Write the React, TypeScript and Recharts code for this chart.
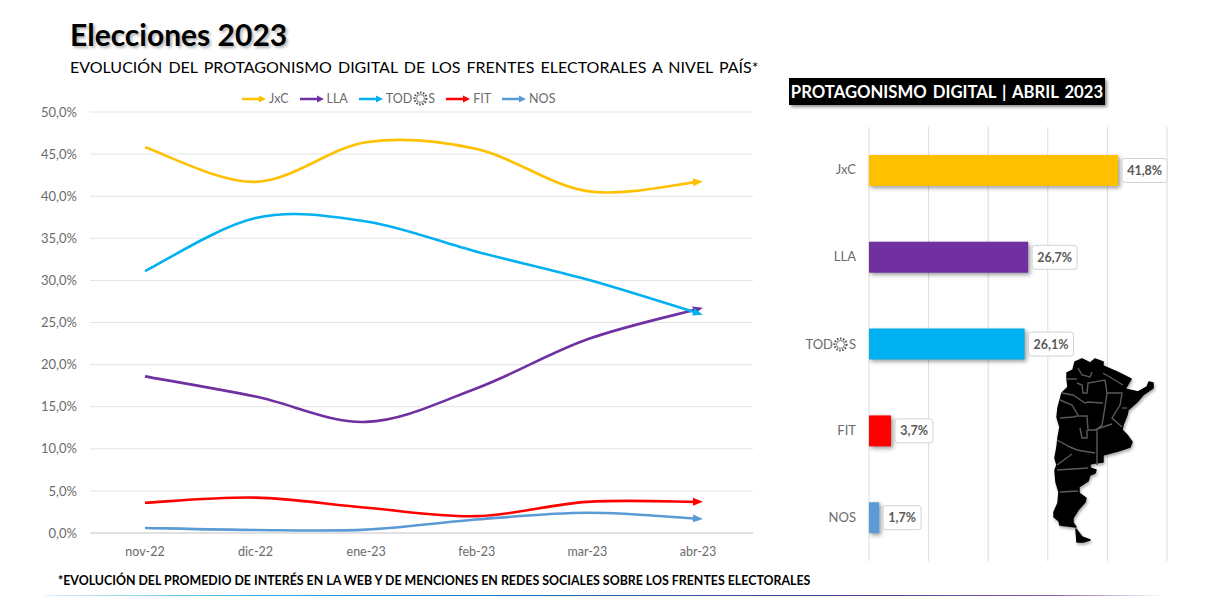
import { BarChart, Bar, Cell, CartesianGrid, LabelList, Legend, Line, LineChart, XAxis, YAxis } from "recharts"

const months = ["nov-22", "dic-22", "ene-23", "feb-23", "mar-23", "abr-23"]
const jxc = [45.8, 41.7, 46.4, 45.6, 40.6, 41.7]
const lla = [18.6, 16.2, 13.2, 17.2, 23.0, 26.6]
const todos = [31.1, 37.4, 37.0, 33.4, 30.1, 26.1]
const fit = [3.6, 4.2, 3.0, 2.0, 3.7, 3.7]
const nos = [0.6, 0.35, 0.4, 1.6, 2.4, 1.7]
const yTicks = [0, 5, 10, 15, 20, 25, 30, 35, 40, 45, 50]

const fronts = ["JxC", "LLA", "TODOS", "FIT", "NOS"]
const colors = ["#ffc000", "#7030a0", "#00b0f0", "#ff0000", "#5b9bd5"]
const april = [41.8, 26.7, 26.1, 3.7, 1.7]
const barTicks = [0, 10, 20, 30, 40, 50]

const lineData = months.map((m, i) => ({ month: m, JxC: jxc[i], LLA: lla[i], TODOS: todos[i], FIT: fit[i], NOS: nos[i] }))
const barData = fronts.map((f, i) => ({ name: f, value: april[i] }))

const FONT = "Lato, sans-serif"
const GRAY = "#6b6b6b"

const comma = (v: number) => v.toFixed(1).replace(".", ",")

// same smoothing excel uses for "smoothed line"
const excelCurve = (ctx: any) => {
  let pts: number[][] = []
  return {
    areaStart() {},
    areaEnd() {},
    lineStart() { pts = [] },
    point(x: number, y: number) { pts.push([+x, +y]) },
    lineEnd() {
      pts.forEach((p, i) => {
        if (i === 0) { ctx.moveTo(p[0], p[1]); return }
        const p0 = pts[Math.max(i - 2, 0)]
        const p1 = pts[i - 1]
        const p3 = pts[Math.min(i + 1, pts.length - 1)]
        ctx.bezierCurveTo(
          p1[0] + (p[0] - p0[0]) / 6, p1[1] + (p[1] - p0[1]) / 6,
          p[0] - (p3[0] - p1[0]) / 6, p[1] - (p3[1] - p1[1]) / 6,
          p[0], p[1]
        )
      })
    },
  }
}

function Sun({ size = 15 }: { size?: number }) {
  return (
    <svg width={size} height={size} viewBox="0 0 14 14" style={{ verticalAlign: "-3px", margin: "0 0.5px" }}>
      <circle cx="7" cy="7" r="5.6" fill="none" stroke="#555" strokeWidth="2" strokeDasharray="1.4 1.4" />
      <circle cx="7" cy="7" r="3.7" fill="none" stroke="#666" strokeWidth="0.8" />
    </svg>
  )
}

const renderLegend = (props: any) => (
  <div style={{ display: "flex", fontFamily: FONT, fontSize: 12.5, color: GRAY, lineHeight: "14px" }}>
    {props.payload.map((p: any) => (
      <div key={p.value} style={{ display: "flex", alignItems: "center", marginRight: 11 }}>
        <svg width={24} height={10} style={{ marginRight: 3 }}>
          <line x1={0} y1={5} x2={19} y2={5} stroke={p.color} strokeWidth={2.5} />
          <path d="M17 1.5 L24 5 L17 8.5 Z" fill={p.color} />
        </svg>
        {p.value === "TODOS" ? <span>TOD<Sun />S</span> : <span>{p.value}</span>}
      </div>
    ))}
  </div>
)

const FrontTick = (props: any) => {
  const { x, y, payload } = props
  const label = payload.value as string
  if (label !== "TODOS") {
    return <text x={x - 5} y={y + 4} textAnchor="end" fontFamily={FONT} fontSize={13} fill={GRAY}>{label}</text>
  }
  return (
    <foreignObject x={x - 65} y={y - 9} width={60} height={18}>
      <div style={{ textAlign: "right", fontFamily: FONT, fontSize: 13, color: GRAY, lineHeight: "18px" }}>TOD<Sun />S</div>
    </foreignObject>
  )
}

const ValueBox = (props: any) => {
  const { x, y, width, height, value } = props
  const text = comma(value) + "%"
  const w = text.length * 7 + 10
  const left = x + width + 4
  return (
    <g>
      <rect x={left} y={y + height / 2 - 12} width={w} height={24} rx={3} fill="#fff" stroke="#d2d2d2" strokeWidth={1} />
      <text x={left + w / 2} y={y + height / 2 + 4.5} textAnchor="middle" fontFamily={FONT} fontWeight={700} fontSize={12.5} fill="#595959">{text}</text>
    </g>
  )
}

// silueta decorativa del mapa
const mapOutline = "M1075 362 L1082 359 L1090 363 L1095 359 L1103 362 L1103 366 L1117 372 L1131 379 L1125 389 L1138 392 L1147 387 L1149 382 L1153 383 L1153 388 L1143 395 L1137 402 L1128 410 L1127 415 L1123 425 L1122 430 L1127 435 L1132 442 L1130 447 L1118 451 L1103 455 L1103 462 L1095 463 L1090 464 L1090 468 L1096 470 L1095 473 L1090 475 L1088 481 L1079 487 L1079 493 L1086 498 L1085 502 L1078 510 L1073 518 L1073 523 L1076 527 L1060 525 L1059 521 L1054 517 L1054 512 L1058 503 L1059 492 L1056 482 L1055 470 L1057 465 L1055 458 L1057 447 L1058 438 L1060 427 L1057 417 L1058 408 L1062 393 L1068 387 L1067 378 L1067 373 L1073 370 Z M1076 529 L1082 537 L1090 540 L1083 542 L1077 542 Z"
const mapBorders = [
  "M1078 368 L1082 375 L1090 377 L1092 372",
  "M1067 379 L1077 379",
  "M1077 383 L1082 385 L1083 393 L1087 393 L1088 383 L1105 380 L1107 393 L1122 393 L1120 405 L1112 418 L1122 427",
  "M1107 393 L1105 407 L1102 425 L1097 429 L1112 424",
  "M1062 393 L1073 395 L1085 403 L1088 402 L1103 403",
  "M1060 400 L1072 405 L1078 415",
  "M1060 418 L1073 417 L1077 416 L1087 416 L1088 430 L1095 430 L1097 429 L1097 465",
  "M1080 428 L1082 438 L1087 438 L1087 430",
  "M1103 373 L1123 385",
  "M1122 408 L1127 408",
  "M1057 440 L1070 447 L1077 450 L1095 453",
  "M1057 470 L1088 468",
  "M1057 465 L1072 454",
  "M1060 492 L1078 491",
]

export default function App() {
  return (
    <div style={{ position: "absolute", left: 0, top: 0, width: 1214, height: 596, background: "#fff", overflow: "hidden", fontFamily: FONT }}>
      <style>{`.recharts-bar-rectangle path, .recharts-bar-rectangle rect { filter: drop-shadow(2px 2px 2px rgba(0,0,0,.4)); }`}</style>

      <div style={{ position: "absolute", left: 70, top: 16, fontSize: 30, fontWeight: 700, color: "#000", textShadow: "2px 2px 3px rgba(0,0,0,.3)", whiteSpace: "nowrap" }}>Elecciones 2023</div>
      <div style={{ position: "absolute", left: 70, top: 57, fontSize: 16, color: "#000", wordSpacing: 2, whiteSpace: "nowrap" }}>EVOLUCIÓN DEL PROTAGONISMO DIGITAL DE LOS FRENTES ELECTORALES A NIVEL PAÍS*</div>

      <div style={{ position: "absolute", left: 0, top: 0 }}>
        <LineChart width={770} height={570} data={lineData} margin={{ top: 112, right: 17, bottom: 7, left: 20 }}>
          <defs>
            {fronts.map((f, i) => (
              <marker key={f} id={`arrow-${f}`} markerUnits="userSpaceOnUse" markerWidth={10} markerHeight={10} refX={5} refY={5} orient="auto">
                <path d="M0 1 L10 5 L0 9 Z" fill={colors[i]} />
              </marker>
            ))}
          </defs>
          <CartesianGrid vertical={false} stroke="#e4e4e4" strokeWidth={1} />
          <XAxis dataKey="month" height={30} padding={{ left: 55, right: 55 }} axisLine={{ stroke: "#cfcfcf" }} tickLine={false} tickMargin={8} tick={{ fontFamily: FONT, fontSize: 12.5, fill: GRAY }} />
          <YAxis width={70} domain={[0, 50]} ticks={yTicks} axisLine={false} tickLine={false} tickMargin={7} tickFormatter={(v: number) => comma(v) + "%"} tick={{ fontFamily: FONT, fontSize: 13, fill: GRAY }} />
          <Legend verticalAlign="middle" itemSorter={null} content={renderLegend} wrapperStyle={{ top: 91, left: 242, width: 340 }} />
          {fronts.map((f, i) => (
            <Line key={f} dataKey={f} name={f} type={excelCurve as any} stroke={colors[i]} strokeWidth={2.6} dot={false} activeDot={false} markerEnd={`url(#arrow-${f})`} isAnimationActive={false} />
          ))}
        </LineChart>
      </div>

      <div style={{ position: "absolute", left: 789, top: 78, width: 316, height: 27, background: "#000", boxShadow: "2px 2px 3px rgba(0,0,0,.45)", color: "#fff", fontSize: 16.7, fontWeight: 700, lineHeight: "28px", textAlign: "center", whiteSpace: "nowrap", wordSpacing: 2 }}>PROTAGONISMO DIGITAL | ABRIL 2023</div>

      <div style={{ position: "absolute", left: 780, top: 110 }}>
        <BarChart layout="vertical" width={400} height={460} data={barData} margin={{ top: 17, right: 13, bottom: 9, left: 9 }}>
          <CartesianGrid horizontal={false} stroke="#dcdcdc" />
          <XAxis type="number" hide domain={[0, 50]} ticks={barTicks} />
          <YAxis type="category" dataKey="name" width={80} axisLine={false} tickLine={false} tick={<FrontTick />} />
          <Bar dataKey="value" barSize={31} isAnimationActive={false}>
            {fronts.map((f, i) => <Cell key={f} fill={colors[i]} />)}
            <LabelList dataKey="value" content={<ValueBox />} />
          </Bar>
        </BarChart>
      </div>

      <svg width={1214} height={596} style={{ position: "absolute", left: 0, top: 0, pointerEvents: "none" }}>
        <defs>
          <linearGradient id="rule" x1="0" x2="1" y1="0" y2="0">
            <stop offset="0" stopColor="#d8f0fa" />
            <stop offset="0.2" stopColor="#29a8e0" />
            <stop offset="0.5" stopColor="#1f5fa8" />
            <stop offset="0.75" stopColor="#4b3f92" />
            <stop offset="0.9" stopColor="#8a5fa8" />
            <stop offset="1" stopColor="#ffffff" />
          </linearGradient>
        </defs>
        <path d={mapOutline} fill="#000" stroke="#000" strokeWidth={1.5} strokeLinejoin="round" style={{ filter: "drop-shadow(1px 2px 1.5px rgba(0,0,0,.35))" }} />
        {mapBorders.map((d) => <path key={d} d={d} fill="none" stroke="#5a5a5a" strokeWidth={1.4} />)}
        <rect x={45} y={595} width={1120} height={1} fill="url(#rule)" />
      </svg>

      <div style={{ position: "absolute", left: 58, top: 573, fontSize: 12.38, fontWeight: 700, color: "#000", whiteSpace: "nowrap" }}>*EVOLUCIÓN DEL PROMEDIO DE INTERÉS EN LA WEB Y DE MENCIONES EN REDES SOCIALES SOBRE LOS FRENTES ELECTORALES</div>
    </div>
  )
}
